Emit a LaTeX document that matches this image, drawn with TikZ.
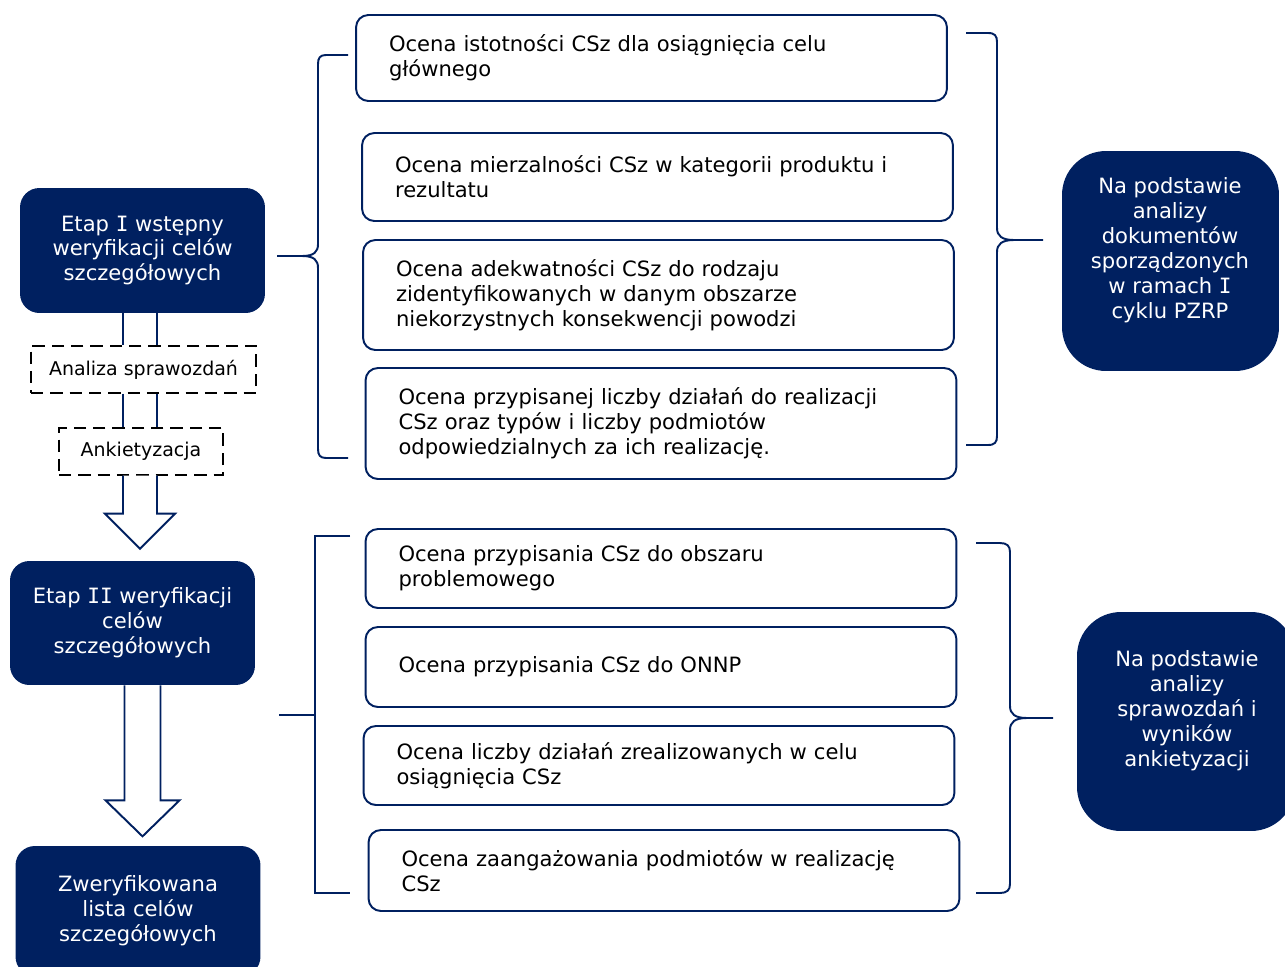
\documentclass[tikz,border=0pt]{standalone}
\usepackage{fontspec}
\setmainfont{DejaVu Sans}
\newfontfamily\rzymska{DejaVu Sans Mono}
\usetikzlibrary{calc}
\definecolor{granat}{RGB}{0,32,96}
\newcommand\duzy{\fontsize{12}{14.2}\selectfont}
\newcommand\maly{\fontsize{10.8}{12.8}\selectfont}
\newcommand\rz[1]{{\rzymska #1}}

\begin{document}
\begin{tikzpicture}[x=0.02cm, y=-0.02cm,
    etap/.style={fill=granat, rounded corners=11pt, text=white, align=center, minimum width=4.9cm, font=\duzy},
    metoda/.style={draw=black, line width=0.8pt, dash pattern=on 7pt off 4pt, minimum height=0.94cm, font=\maly},
    ocena/.style={draw=granat, line width=1.1pt, rounded corners=7pt, fill=white, text width=10.5cm, inner xsep=0.66cm, align=left, font=\duzy},
    podstawa/.style={fill=granat, rounded corners=25pt},
    napis/.style={text=white, align=center, font=\duzy},
    klamra/.style={draw=granat, line width=1.1pt},
    strzalka/.style={draw=granat, fill=white, line width=1.1pt, line join=miter}]
    \useasboundingbox (0,0) rectangle (1285,967);

    \node [etap, minimum height=2.5cm] (etap1) at (142.5,250.5) {Etap \rz{I} wstępny\\weryfikacji celów\\szczegółowych};
    \node [metoda, minimum width=4.5cm] (analiza) at (143.5,369.5) {Analiza sprawozdań};
    \node [metoda, minimum width=3.28cm] (ankiet) at (141,451.5) {Ankietyzacja};
    \node [etap, minimum height=2.48cm] (etap2) at (132.5,623) {Etap \rz{II} weryfikacji\\celów\\szczegółowych};
    \node [etap, minimum height=2.6cm] (lista) at (138,911) {Zweryfikowana\\lista celów\\szczegółowych};

    \draw [granat, line width=1.1pt] (123,0 |- etap1.south) -- (123,0 |- analiza.north);
    \draw [granat, line width=1.1pt] (157,0 |- etap1.south) -- (157,0 |- analiza.north);
    \draw [granat, line width=1.1pt] (123,0 |- analiza.south) -- (123,0 |- ankiet.north);
    \draw [granat, line width=1.1pt] (157,0 |- analiza.south) -- (157,0 |- ankiet.north);
    \draw [strzalka] ($(ankiet.south)+(-18,0)$) -- ++(0,38) -- ++(-18,0) -- ++(35,35)
        -- ++(35,-35) -- ++(-18,0) -- ++(0,-38);
    \draw [strzalka] ($(etap2.south)+(-8,0)$) -- ++(0,115) -- ++(-19,0) -- ++(37,36)
        -- ++(37,-36) -- ++(-19,0) -- ++(0,-115);

    \node [ocena, minimum height=1.72cm] (o1) at (651.5,58) {Ocena istotności CSz dla osiągnięcia celu\\głównego};
    \node [ocena, minimum height=1.76cm] (o2) at (657.5,177) {Ocena mierzalności CSz w kategorii produktu i\\rezultatu};
    \node [ocena, minimum height=2.2cm] (o3) at (658.5,295) {Ocena adekwatności CSz do rodzaju\\zidentyfikowanych w danym obszarze\\niekorzystnych konsekwencji powodzi};
    \node [ocena, minimum height=2.22cm] (o4) at (661,423.5) {Ocena przypisanej liczby działań do realizacji\\CSz oraz typów i liczby podmiotów\\odpowiedzialnych za ich realizację.};
    \node [ocena, minimum height=1.58cm] (o5) at (661,568.5) {Ocena przypisania CSz do obszaru\\problemowego};
    \node [ocena, minimum height=1.6cm] (o6) at (661,667) {Ocena przypisania CSz do ONNP};
    \node [ocena, minimum height=1.58cm] (o7) at (659,765.5) {Ocena liczby działań zrealizowanych w celu\\osiągnięcia CSz};
    \node [ocena, minimum height=1.62cm] (o8) at (664,870.5) {Ocena zaangażowania podmiotów w realizację\\CSz};

    \node [podstawa, minimum width=4.34cm, minimum height=4.4cm] (dok) at (1170.5,261) {};
    \node [napis] (doktekst) at (1170,250) {Na podstawie\\analizy\\dokumentów\\sporządzonych\\w ramach \rz{I}\\cyklu PZRP};
    \node [podstawa, minimum width=4.36cm, minimum height=4.38cm] (spr) at (1186,721.5) {};
    \node [napis] (sprtekst) at (1187,711) {Na podstawie\\analizy\\sprawozdań i\\wyników\\ankietyzacji};

    \draw [klamra] (348,55) -- (326,55) .. controls (320,55) and (318,58) .. (318,64) -- (318,244)
        .. controls (318,252) and (314,256) .. (302,256) -- (277,256);
    \draw [klamra] (302,256) .. controls (314,256) and (318,260) .. (318,268) -- (318,449)
        .. controls (318,455) and (320,458) .. (326,458) -- (348,458);
    \draw [klamra] (350,536) -- (315,536) -- (315,893) -- (350,893);
    \draw [klamra] (279,715) -- (315,715);

    \draw [klamra] (966,33) -- (988,33) .. controls (995,33) and (997,36) .. (997,42) -- (997,228)
        .. controls (997,236) and (1002,240) .. (1014,240) -- (1043,240);
    \draw [klamra] (1014,240) .. controls (1002,240) and (997,244) .. (997,252) -- (997,436)
        .. controls (997,442) and (995,445) .. (988,445) -- (966,445);
    \draw [klamra] (976,543) -- (1000,543) .. controls (1007,543) and (1010,546) .. (1010,552) -- (1010,706)
        .. controls (1010,714) and (1015,718) .. (1027,718) -- (1053,718);
    \draw [klamra] (1027,718) .. controls (1015,718) and (1010,722) .. (1010,730) -- (1010,884)
        .. controls (1010,890) and (1007,893) .. (1000,893) -- (976,893);
\end{tikzpicture}
\end{document}
